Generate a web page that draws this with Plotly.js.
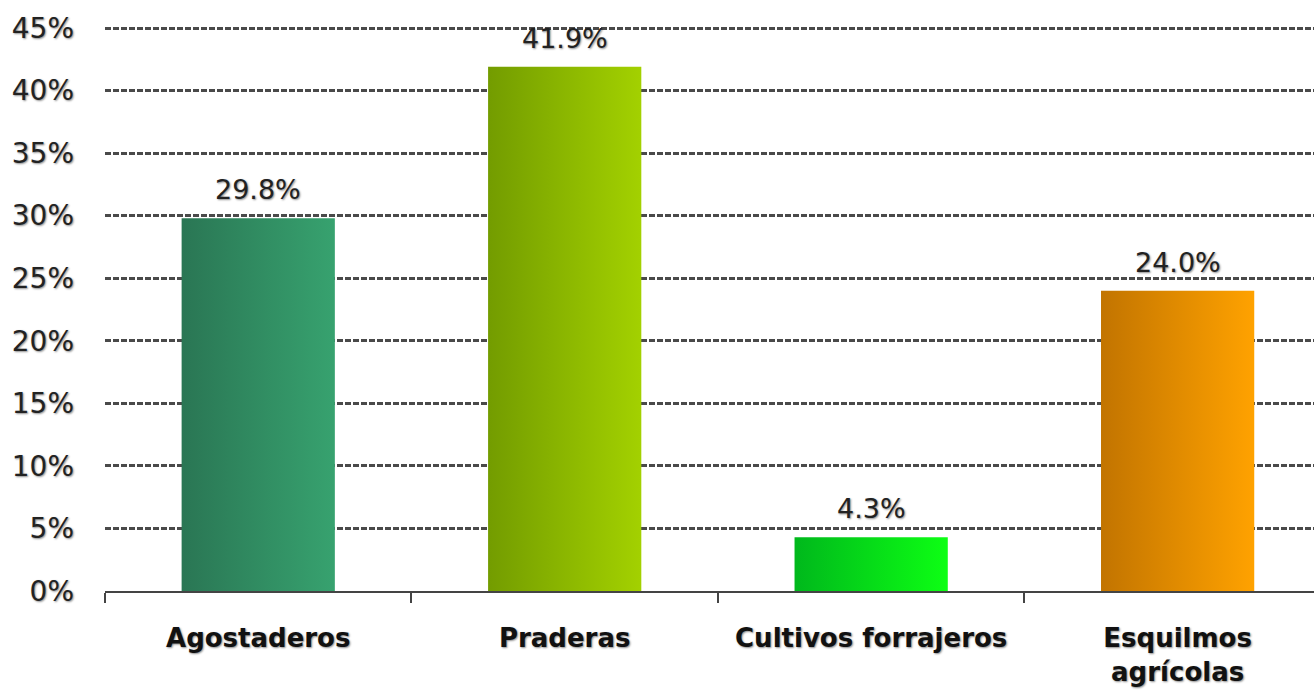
<!DOCTYPE html>
<html>
<head>
<meta charset="utf-8">
<script src="https://cdn.plot.ly/plotly-3.0.1.min.js"></script>
<style>html,body{margin:0;padding:0;background:#fff;}#chart{width:1314px;height:694px;}</style>
</head>
<body>
<div id="chart"></div>
<script>
const categories = ["Agostaderos", "Praderas", "Cultivos forrajeros", "Esquilmos<br>agrícolas"];
const values = [29.8, 41.9, 4.3, 24.0];
const valueLabels = ["29.8%", "41.9%", "4.3%", "24.0%"];
const gradientStops = [["#2a7654", "#37a26f"], ["#739c00", "#a3d100"], ["#00b81c", "#0dff14"], ["#c27400", "#ffa200"]];
const midColors = ["#30895f", "#8bb800", "#00dc18", "#e08c00"];
const yTicks = [0, 5, 10, 15, 20, 25, 30, 35, 40, 45];

const font = "DejaVu Sans, Verdana, sans-serif";
const shadow = "1px 1px 2px rgba(0,0,0,0.45)";

const trace = {
  type: "bar",
  x: categories,
  y: values,
  width: 0.5,
  marker: {color: midColors, line: {width: 0}},
  hoverinfo: "skip"
};

const annotations = categories.map((c, i) => ({
  x: c, y: values[i], xref: "x", yref: "y",
  text: valueLabels[i], showarrow: false,
  yanchor: "bottom", yshift: 11,
  font: {family: font, size: 27, color: "#222", shadow: shadow}
}));

const layout = {
  width: 1314, height: 694,
  margin: {l: 105, r: 0, t: 26, b: 103},
  paper_bgcolor: "#fff", plot_bgcolor: "#fff",
  showlegend: false,
  bargap: 0.5,
  xaxis: {
    type: "category",
    range: [-0.5, 3.445],
    showline: true, linecolor: "#444", linewidth: 2,
    ticks: "outside", tickson: "boundaries", ticklen: 10, tickwidth: 2, tickcolor: "#444",
    ticklabelstandoff: 23,
    showgrid: false, zeroline: false,
    tickfont: {family: font, size: 26, weight: "bold", color: "#111", shadow: shadow},
    fixedrange: true
  },
  yaxis: {
    range: [0, 45.16],
    tickvals: yTicks,
    ticktext: yTicks.map(v => v + "%"),
    showline: false, zeroline: false,
    showgrid: true, gridcolor: "#4a4a4a", gridwidth: 3, griddash: "6px,2px",
    ticks: "", ticklabelstandoff: 30,
    tickfont: {family: font, size: 28, color: "#222", shadow: shadow},
    fixedrange: true
  },
  annotations: annotations
};

Plotly.newPlot("chart", [trace], layout, {displayModeBar: false, staticPlot: true}).then(gd => {
  const ns = "http://www.w3.org/2000/svg";
  const svg = gd.querySelector("svg.main-svg");
  let defs = svg.querySelector("defs");
  if (!defs) { defs = document.createElementNS(ns, "defs"); svg.insertBefore(defs, svg.firstChild); }
  gradientStops.forEach((stops, i) => {
    const lg = document.createElementNS(ns, "linearGradient");
    lg.setAttribute("id", "barGrad" + i);
    lg.setAttribute("x1", "0"); lg.setAttribute("y1", "0");
    lg.setAttribute("x2", "1"); lg.setAttribute("y2", "0");
    [[0, stops[0]], [1, stops[1]]].forEach(([o, c]) => {
      const s = document.createElementNS(ns, "stop");
      s.setAttribute("offset", o);
      s.setAttribute("stop-color", c);
      lg.appendChild(s);
    });
    defs.appendChild(lg);
  });
  gd.querySelectorAll(".barlayer .trace .point path").forEach((p, i) => {
    p.style.fill = "url(#barGrad" + i + ")";
  });
});
</script>
</body>
</html>
